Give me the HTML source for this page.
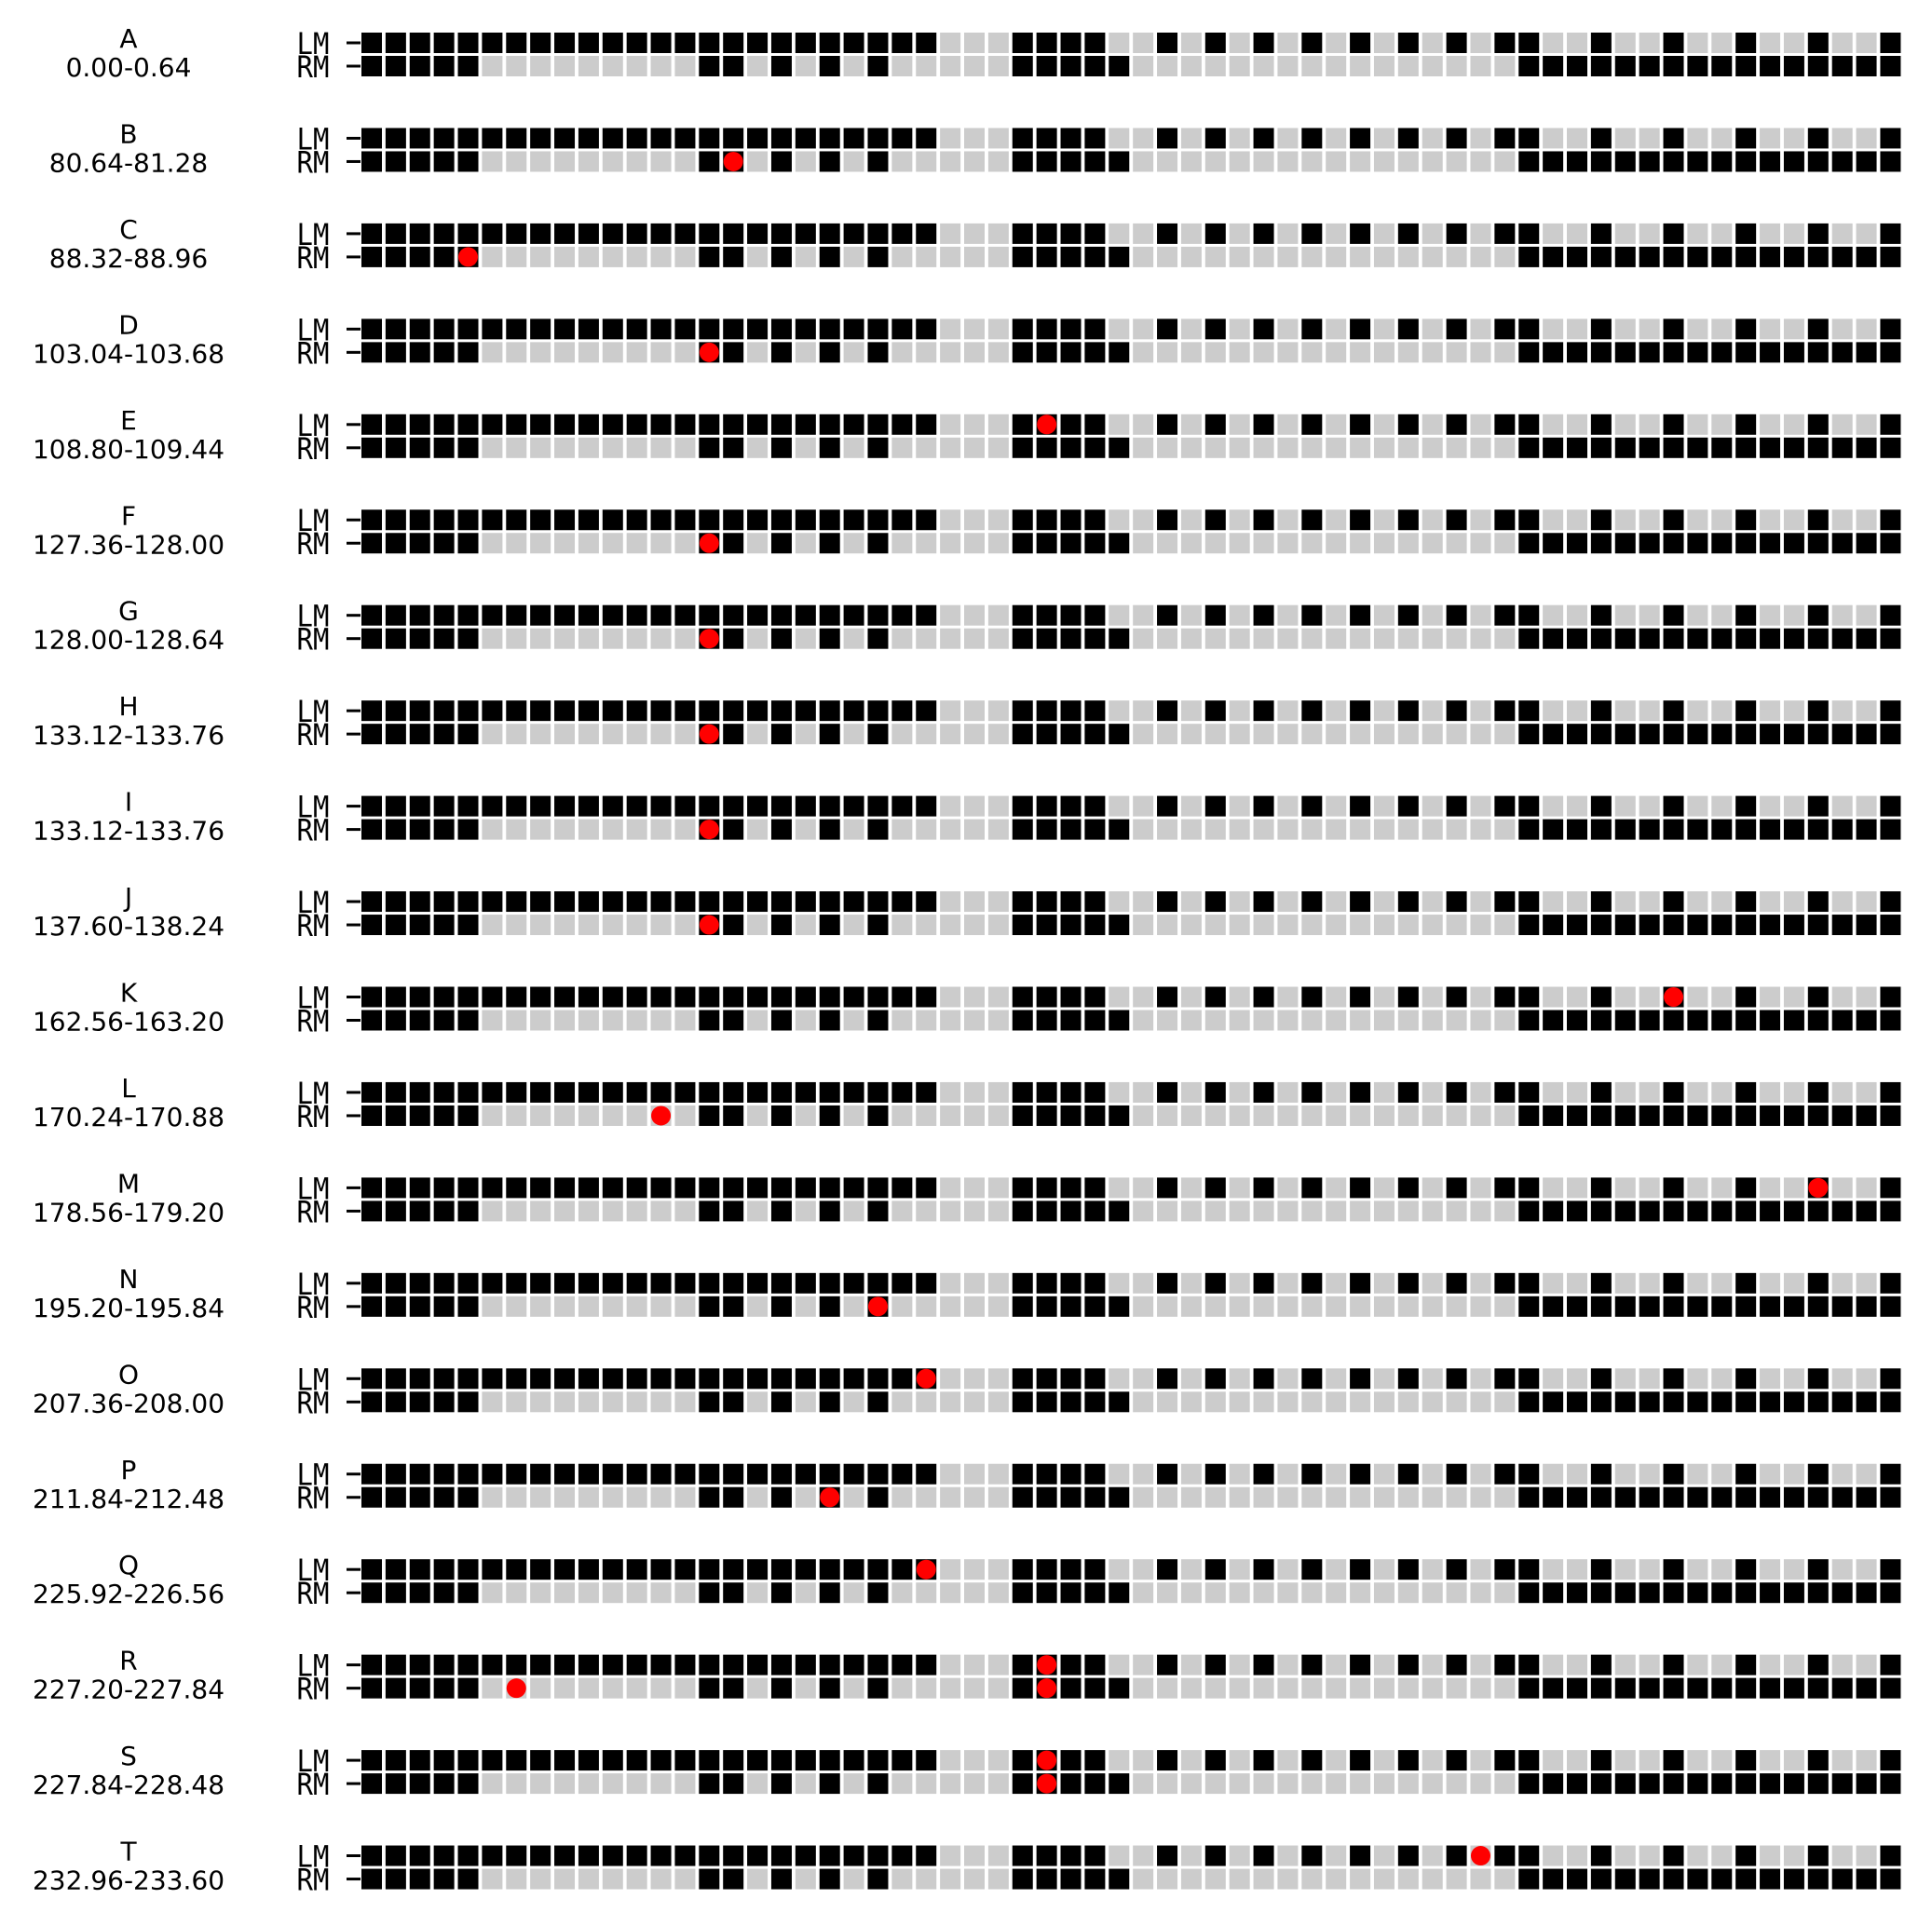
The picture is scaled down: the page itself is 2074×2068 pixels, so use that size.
<!DOCTYPE html>
<html><head><meta charset="utf-8"><style>
html,body{margin:0;padding:0;background:#fff;}
svg{display:block;}
</style></head><body>
<svg id="chart" width="2074" height="2068" xmlns="http://www.w3.org/2000/svg"></svg>
<script>
const groupLetters = ["A","B","C","D","E","F","G","H","I","J","K","L","M","N","O","P","Q","R","S","T"];
const groupRanges = ["0.00-0.64","80.64-81.28","88.32-88.96","103.04-103.68","108.80-109.44","127.36-128.00","128.00-128.64","133.12-133.76","133.12-133.76","137.60-138.24","162.56-163.20","170.24-170.88","178.56-179.20","195.20-195.84","207.36-208.00","211.84-212.48","225.92-226.56","227.20-227.84","227.84-228.48","232.96-233.60"];
const nCols = 64;
const lmBlack = [0,1,2,3,4,5,6,7,8,9,10,11,12,13,14,15,16,17,18,19,20,21,22,23,27,28,29,30,33,35,37,39,41,43,45,47,48,51,54,57,60,63];
const rmBlack = [0,1,2,3,4,14,15,17,19,21,27,28,29,30,31,48,49,50,51,52,53,54,55,56,57,58,59,60,61,62,63];
// red markers: [group index, track (0=LM,1=RM), column]
const markers = [[1,1,15],[2,1,4],[3,1,14],[4,0,28],[5,1,14],[6,1,14],[7,1,14],[8,1,14],[9,1,14],[10,0,54],[11,1,12],[12,0,60],[13,1,21],[14,0,23],[15,1,19],[16,0,23],[17,0,28],[17,1,28],[17,1,6],[18,0,28],[18,1,28],[19,0,46]];

const svg = document.getElementById('chart');
const NS = 'http://www.w3.org/2000/svg';
const x0 = 388, colPitch = 25.88, cell = 22;
const y0 = 35, groupPitch = 102.45, trackPitch = 25;
const xCol = c => x0 + c * colPitch;
const yTrack = (g, t) => y0 + g * groupPitch + t * trackPitch;
function mk(tag, attrs){const e=document.createElementNS(NS,tag);for(const k in attrs)e.setAttribute(k,attrs[k]);svg.appendChild(e);return e;}

groupLetters.forEach((L, g) => {
  const yt = yTrack(g, 0);
  let t1 = mk('text',{x:138,y:yt+16,'text-anchor':'middle','font-family':'DejaVu Sans, Liberation Sans, sans-serif','font-size':28,fill:'#000'});
  t1.textContent = L;
  
  
  let t2 = mk('text',{x:138,y:yt+47,'text-anchor':'middle','font-family':'DejaVu Sans, Liberation Sans, sans-serif','font-size':28,fill:'#000'});
  t2.textContent = groupRanges[g];
  
  
  ['LM','RM'].forEach((lab, t) => {
    const y = yTrack(g, t);
    const tl = mk('text',{x:336,y:y+cell+1,'text-anchor':'middle','font-family':'DejaVu Sans Mono, Liberation Mono, monospace','font-size':29,fill:'#000',transform:`translate(0 ${(y+cell+1)}) scale(1 1.1) translate(0 ${-(y+cell+1)})`});
    tl.textContent = lab;
    
    
    const tk = mk('rect',{x:372,y:y+cell/2-1.5,width:15,height:3,fill:'#000'});
    
    
    const blacks = t === 0 ? lmBlack : rmBlack;
    for (let c = 0; c < nCols; c++) {
      const r = mk('rect',{x:xCol(c),y:y,width:cell,height:cell,fill:blacks.includes(c)?'#000':'#cccccc'});
      
      
    }
  });
});
markers.forEach(m => {
  const [g,t,c] = m;
  const d = mk('circle',{cx:xCol(c)+cell/2,cy:yTrack(g,t)+cell/2,r:10.5,fill:'#ff0000'});
  
  
});
</script>
</body></html>
